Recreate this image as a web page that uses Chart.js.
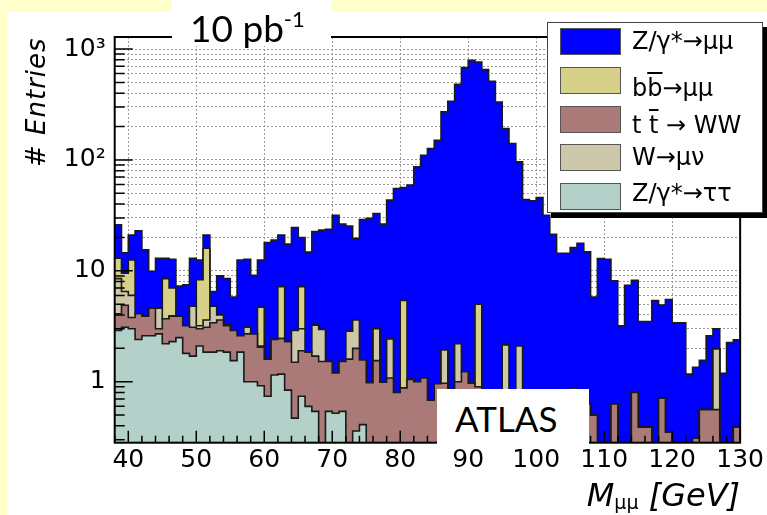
<!DOCTYPE html>
<html>
<head>
<meta charset="utf-8">
<script src="https://cdn.jsdelivr.net/npm/chart.js@4.4.1/dist/chart.umd.min.js"></script>
<style>
    html, body { margin: 0; padding: 0; }
    body {
        width: 767px; height: 515px; overflow: hidden; position: relative;
        background: #ffffcc; font-family: "DejaVu Sans", sans-serif; color: #000;
    }
    #chart { position: absolute; left: 7px; top: 12px; background: #fff; }
    .over { position: absolute; z-index: 2; white-space: nowrap; }
    .box { position: absolute; z-index: 2; background: #fff; }
    #lumiBox { left: 172px; top: 0; width: 159px; height: 46px; }
    #lumi { left: 190px; top: 6px; font-family: Lato, sans-serif; font-size: 37px; line-height: 44px; }
    #lumi sup { font-size: 22px; vertical-align: 15px; line-height: 0; }
    #atlasBox { left: 437px; top: 389px; width: 152px; height: 56px; }
    #atlas { left: 455px; top: 397px; font-family: Lato, sans-serif; font-size: 35px; line-height: 42px; }
    #ytitle {
        left: 23px; top: 167px; transform-origin: 0 0; transform: rotate(-90deg);
        font-style: italic; font-size: 26px; line-height: 26px; letter-spacing: 1px;
    }
    #xtitle { right: 27px; top: 477px; font-style: italic; font-size: 32px; line-height: 37px; }
    #xtitle sub { font-size: 19px; vertical-align: -3px; line-height: 0; font-style: normal; }
    #legend {
        position: absolute; z-index: 3; left: 547px; top: 22px; width: 216px; height: 191px;
        box-sizing: border-box; background: #fff; border: 1px solid #444;
        box-shadow: 4px 5px 0 #000;
    }
    #legend .sw { position: absolute; left: 12px; width: 61px; height: 27px; box-sizing: border-box; border: 1px solid #555; }
    #legend .lt { position: absolute; left: 84px; font-size: 24px; line-height: 28px; white-space: nowrap; }
    .ov { text-decoration: overline; }
</style>
</head>
<body>
<canvas id="chart" width="760" height="503"></canvas>

<div class="box" id="lumiBox"></div>
<div class="over" id="lumi">10 pb<sup>-1</sup></div>
<div class="box" id="atlasBox"></div>
<div class="over" id="atlas">ATLAS</div>
<div class="over" id="ytitle"># Entries</div>
<div class="over" id="xtitle">M<sub>μμ</sub> [GeV]</div>

<div id="legend">
    <div class="sw" id="sw0" style="top:5px"></div><div class="lt" style="top:4px">Z/γ*→μμ</div>
    <div class="sw" id="sw1" style="top:44px"></div><div class="lt" style="top:51px">b<span class="ov">b</span>→μμ</div>
    <div class="sw" id="sw2" style="top:83px"></div><div class="lt" style="top:88px">t <span class="ov">t</span> → WW</div>
    <div class="sw" id="sw3" style="top:121px"></div><div class="lt" style="top:120px">W→μν</div>
    <div class="sw" id="sw4" style="top:160px"></div><div class="lt" style="top:156px">Z/γ*→ττ</div>
</div>

<script>
// Histogram binning: 1 GeV bins from 38 to 130 GeV
const massMin = 38;
const massMax = 130;
const binWidth = 1;

// Entries per bin (stack order bottom -> top)
const ztautau = [
    2.9, 3.1, 3.0, 2.4, 2.6, 2.6, 2.7, 2.2, 2.3, 2.5,
    1.8, 1.7, 2.1, 1.85, 1.85, 1.9, 1.85, 1.55, 1.85, 1.0,
    1.0, 0.92, 0.74, 1.15, 1.17, 0.84, 0.47, 0.74, 0.6, 0.54,
    0, 0.54, 0.52, 0.54, 0, 0.36, 0.41, 0, 0, 0,
    0, 0, 0, 0, 0, 0, 0, 0, 0, 0,
    0, 0, 0, 0, 0, 0, 0, 0, 0, 0,
    0, 0, 0, 0, 0, 0, 0, 0, 0, 0,
    0, 0, 0, 0, 0, 0, 0, 0, 0, 0,
    0, 0, 0, 0, 0, 0, 0, 0, 0, 0,
    0, 0
];
const ttbar = [
    1.2, 1.8, 0.8, 1.7, 1.3, 2.0, 0.3, 1.5, 1.6, 1.4,
    1.4, 1.4, 0.9, 1.25, 1.55, 1.7, 1.35, 1.35, 0.75, 1.7,
    1.7, 1.13, 0.86, 1.25, 1.28, 1.46, 1.03, 1.16, 1.25, 1.16,
    1.52, 0.98, 0.68, 0.98, 1.6, 1.64, 1.16, 0.98, 1.55, 0.99,
    1.08, 0.8, 0.88, 1.05, 1.0, 1.08, 0.68, 0.96, 0.97, 0.8,
    1.0, 1.23, 0.97, 0.9, 0.8, 0.75, 0.7, 0.8, 0.7, 0.7,
    0.6, 0.6, 0.6, 0.5, 0.5, 0.5, 0.6, 0.88, 0.6, 0.63,
    0.5, 0, 0, 0.63, 0, 0, 0.8, 0.39, 0.39, 0,
    0.71, 0.35, 0, 0, 0, 0.31, 0.56, 0.56, 0.56, 0,
    0, 0.39
];
const wmunu = [
    4.4, 1.6, 2.2, 0, 0, 0, 1.6, 0, 0, 0,
    0, 1.7, 0.2, 0.5, 1.4, 0.4, 0.1, 0, 0, 0.4,
    0, 0.05, 0, 0, 0, 0, 1.4, 1.1, 0, 1.54,
    1.44, 0, 0, 0, 1.25, 1.6, 0, 0, 1.45, 0,
    1.35, 0, 0, 0, 0, 0, 0, 0, 0.96, 0,
    1.2, 0, 0, 0, 0, 0, 0, 1.35, 0, 1.4,
    0, 0, 0, 0, 0, 0, 0, 0, 0, 0,
    0, 0, 0, 0, 0, 0, 0, 0, 0, 0,
    0, 0, 0, 0, 0, 0, 0, 0, 1.41, 0,
    0, 0
];
const bbbar = [
    4.5, 3.0, 6.5, 0, 0, 0, 0, 4.8, 3.1, 0,
    0, 0, 5.1, 12.4, 0, 0, 0, 0, 0, 0,
    0, 2.6, 0, 0, 4.75, 0, 0, 4.2, 0, 0,
    0, 0, 0, 0, 0, 0, 0, 0, 0, 0,
    0, 0, 4.52, 0, 0, 0, 0, 0, 0, 0,
    0, 0, 0, 4.1, 0, 0, 0, 0, 0, 0,
    0, 0, 0, 0, 0, 0, 0, 0, 0, 0,
    0, 0, 0, 0, 0, 0, 0, 0, 0, 0,
    0, 0, 0, 0, 0, 0, 0, 0, 0, 0,
    0, 0
];
const zmumu = [
    13, 5.0, 8.5, 18.9, 11.6, 5.3, 8.4, 4.5, 5.7, 3.4,
    4.3, 8.2, 4.2, 5.0, 1.7, 5.0, 5.2, 2.9, 9.9, 9.6,
    6.4, 7.8, 16.4, 16.5, 13.8, 15.1, 21.7, 12.8, 12.95, 19.3,
    20.3, 22.1, 30.5, 24.9, 22.5, 16.0, 27.4, 28.7, 29.9, 25.4,
    41, 54.5, 51, 58.2, 85.5, 109, 126, 149, 269, 337,
    479, 678, 790, 758, 651, 511, 332, 190, 140, 94,
    43.4, 42.1, 45.2, 31.2, 20.8, 13.9, 13.8, 15.3, 17.1, 14.2,
    5.3, 12.9, 12.7, 7.5, 3.2, 7.4, 7.4, 3.1, 3.1, 5.4,
    4.2, 5.15, 3.4, 3.4, 1.17, 1.04, 1.0, 2.04, 1.03, 1.19,
    2.25, 2.0
];

// Y axis labels at the decades
const decadeLabels = { 1: "1", 10: "10", 100: "10²", 1000: "10³" };

const layers = [ztautau, ttbar, wmunu, bbbar, zmumu];
const colors = ["#b3d1c9", "#a97a78", "#cec8aa", "#d6d088", "#0000ff"];

// paint legend swatches with the same colours
const legendOrder = [4, 3, 1, 2, 0];
legendOrder.forEach((k, i) => {
    document.getElementById("sw" + i).style.background = colors[k];
});

// Running sums, like a THStack
function stackUp(list) {
    const out = [];
    let run = list[0].map(() => 0);
    list.forEach(l => {
        run = run.map((v, i) => v + l[i]);
        out.push(run);
    });
    return out;
}

// Points at the bin low edges (+ closing point) for a stepped outline
function toSteps(values) {
    const pts = values.map((v, i) => ({ x: massMin + i * binWidth, y: Math.max(v, 0.01) }));
    pts.push({ x: massMin + values.length * binWidth, y: Math.max(values[values.length - 1], 0.01) });
    return pts;
}

function isDecade(v) {
    const m = Math.log10(v);
    return Math.abs(m - Math.round(m)) < 1e-6;
}

// Frame and inward tick marks, drawn over the histograms (like ROOT)
const frameTicks = {
    id: "frameTicks",
    afterDatasetsDraw(chart) {
        const { ctx, chartArea: a, scales: { x, y } } = chart;
        ctx.save();
        ctx.strokeStyle = "#000";
        ctx.lineWidth = 1.5;
        ctx.beginPath();
        x.ticks.forEach(t => {
            const px = x.getPixelForValue(t.value);
            const len = t.value % 10 === 0 ? 12 : 7;
            ctx.moveTo(px, a.bottom);
            ctx.lineTo(px, a.bottom - len);
        });
        y.ticks.forEach(t => {
            const py = y.getPixelForValue(t.value);
            const len = isDecade(t.value) ? 18 : 10;
            ctx.moveTo(a.left, py);
            ctx.lineTo(a.left + len, py);
        });
        ctx.stroke();
        ctx.lineWidth = 2;
        ctx.strokeRect(a.left, a.top, a.right - a.left, a.bottom - a.top);
        ctx.restore();
    }
};

const sums = stackUp(layers);
const datasets = sums.map((s, i) => ({
    data: toSteps(s),
    stepped: true,
    fill: "start",
    backgroundColor: colors[i],
    borderColor: "#1a1a1a",
    borderWidth: 1.6,
    pointRadius: 0,
    clip: 0
}));

Chart.defaults.font.family = "DejaVu Sans";
Chart.defaults.color = "#000";

new Chart(document.getElementById("chart"), {
    type: "line",
    data: { datasets: datasets },
    options: {
        responsive: false,
        animation: false,
        devicePixelRatio: 1,
        layout: { padding: { left: 0, right: 26.7, top: 25, bottom: 0 } },
        plugins: { legend: { display: false }, tooltip: { enabled: false } },
        scales: {
            x: {
                type: "linear",
                min: massMin,
                max: massMax,
                afterFit: (scale) => { scale.height = 72.3; },
                ticks: {
                    stepSize: 2,
                    autoSkip: false,
                    maxRotation: 0,
                    padding: 3,
                    font: { size: 25 },
                    callback: (v) => (v % 10 === 0 ? String(v) : "")
                },
                grid: {
                    drawTicks: false,
                    color: (ctx) => (ctx.tick && ctx.tick.value % 10 === 0 && ctx.tick.value < massMax ? "#999" : "rgba(0,0,0,0)")
                },
                border: { display: false, dash: [2, 2] }
            },
            y: {
                type: "logarithmic",
                min: 0.282,
                max: 1283,
                afterFit: (scale) => { scale.width = 107.7; },
                afterBuildTicks: (scale) => {
                    scale.ticks = scale.ticks.filter(t => {
                        const e = Math.floor(Math.log10(t.value) + 1e-9);
                        const s = t.value / Math.pow(10, e);
                        return Math.abs(s - Math.round(s)) < 1e-6;
                    });
                },
                ticks: {
                    autoSkip: false,
                    padding: 9,
                    font: { size: 25 },
                    callback: (v) => {
                        for (const k in decadeLabels) {
                            if (Math.abs(v - Number(k)) < 1e-6 * Number(k)) return decadeLabels[k];
                        }
                        return "";
                    }
                },
                grid: { drawTicks: false, color: "#999" },
                border: { display: false, dash: [2, 2] }
            }
        }
    },
    plugins: [frameTicks]
});
</script>
</body>
</html>
